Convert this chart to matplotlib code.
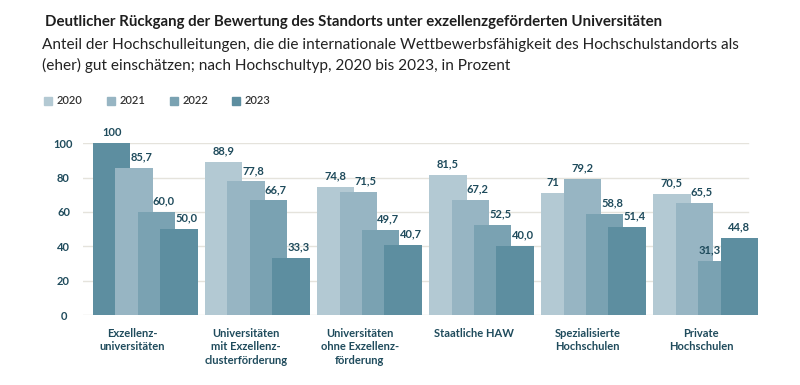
import matplotlib.pyplot as plt
from matplotlib.patches import Rectangle

plt.rcParams['font.family'] = ['Lato', 'DejaVu Sans']

# data
categories = ["Exzellenz-\nuniversitäten",
              "Universitäten\nmit Exzellenz-\nclusterförderung",
              "Universitäten\nohne Exzellenz-\nförderung",
              "Staatliche HAW",
              "Spezialisierte\nHochschulen",
              "Private\nHochschulen"]
years = ["2020", "2021", "2022", "2023"]
values = {
    "2020": [100, 88.9, 74.8, 81.5, 71, 70.5],
    "2021": [85.7, 77.8, 71.5, 67.2, 79.2, 65.5],
    "2022": [60.0, 66.7, 49.7, 52.5, 58.8, 31.3],
    "2023": [50.0, 33.3, 40.7, 40.0, 51.4, 44.8],
}
labels = {
    "2020": ["100", "88,9", "74,8", "81,5", "71", "70,5"],
    "2021": ["85,7", "77,8", "71,5", "67,2", "79,2", "65,5"],
    "2022": ["60,0", "66,7", "49,7", "52,5", "58,8", "31,3"],
    "2023": ["50,0", "33,3", "40,7", "40,0", "51,4", "44,8"],
}

colors = ["#b3c9d3", "#97b5c3", "#7aa2b2", "#5d8ea0"]
dark = "#1f4b5c"
grid_c = "#e5e3dc"

fig = plt.figure(figsize=(8, 3.85), dpi=100)
ax = fig.add_axes([0.10375, 0.1818, 0.84375, 0.446])

w = 0.333   # bar width
s = 0.2     # step between overlapping bars

for yv in range(0, 101, 20):
    ax.axhline(yv, xmin=0, xmax=0.985, color=grid_c, lw=1, zorder=0)

for g in range(len(categories)):
    for i, yr in enumerate(years):
        v = values[yr][g]
        c = colors[i]
        if g == 0 and i == 0:
            c = colors[3]  # first bar is dark in the original
        left = g + i * s
        ax.bar(left, v, width=w, align='edge', color=c, zorder=2 + i)
        # put the label over the part of the bar top that stays free
        if i < 3 and values[years[i + 1]][g] > v:
            lo, hi = left, left + s
        elif i > 0 and values[years[i - 1]][g] > v:
            lo, hi = left - s + w, left + w
        else:
            lo, hi = left, left + w
        ax.annotate(labels[yr][g], ((lo + hi) / 2, v), xytext=(0, 4),
                    textcoords='offset points', ha='center', va='bottom',
                    fontsize=8, fontweight='bold', color=dark, zorder=10)

ax.set_xlim(-0.089, 5.934)
ax.set_ylim(0, 100)
for sp in ax.spines.values():
    sp.set_visible(False)

ax.set_yticks(range(0, 101, 20))
ax.set_yticklabels([str(t) for t in range(0, 101, 20)], ha='center',
                   fontsize=8, fontweight='bold', color=dark)
ax.tick_params(axis='y', length=0, pad=14)

tick_pos = [0.348 + g * 1.016 for g in range(len(categories))]
ax.set_xticks(tick_pos)
ax.set_xticklabels(categories, fontsize=8, fontweight='bold', color=dark,
                   linespacing=1.3, va='top')
ax.tick_params(axis='x', length=0, pad=9)

# titles
fig.text(45 / 800, 1 - 22 / 385, "Deutlicher Rückgang der Bewertung des Standorts unter exzellenzgeförderten Universitäten",
         fontsize=10.85, fontweight='bold', color="#1e1e1e", va='center')
fig.text(42 / 800, 1 - 45 / 385, "Anteil der Hochschulleitungen, die die internationale Wettbewerbsfähigkeit des Hochschulstandorts als",
         fontsize=11.1, color="#222222", va='center')
fig.text(42 / 800, 1 - 65 / 385, "(eher) gut einschätzen; nach Hochschultyp, 2020 bis 2023, in Prozent",
         fontsize=11.1, color="#222222", va='center')

# legend
leg_x = [44, 107, 170, 232]
for i, yr in enumerate(years):
    fig.patches.append(Rectangle((leg_x[i] / 800, 1 - 105 / 385), 8 / 800, 8 / 385,
                                 transform=fig.transFigure, color=colors[i]))
    fig.text((leg_x[i] + 13) / 800, 1 - 101 / 385, yr, fontsize=8,
             fontweight='semibold', color="#333333", va='center')

fig.savefig("out.png", dpi=100)
